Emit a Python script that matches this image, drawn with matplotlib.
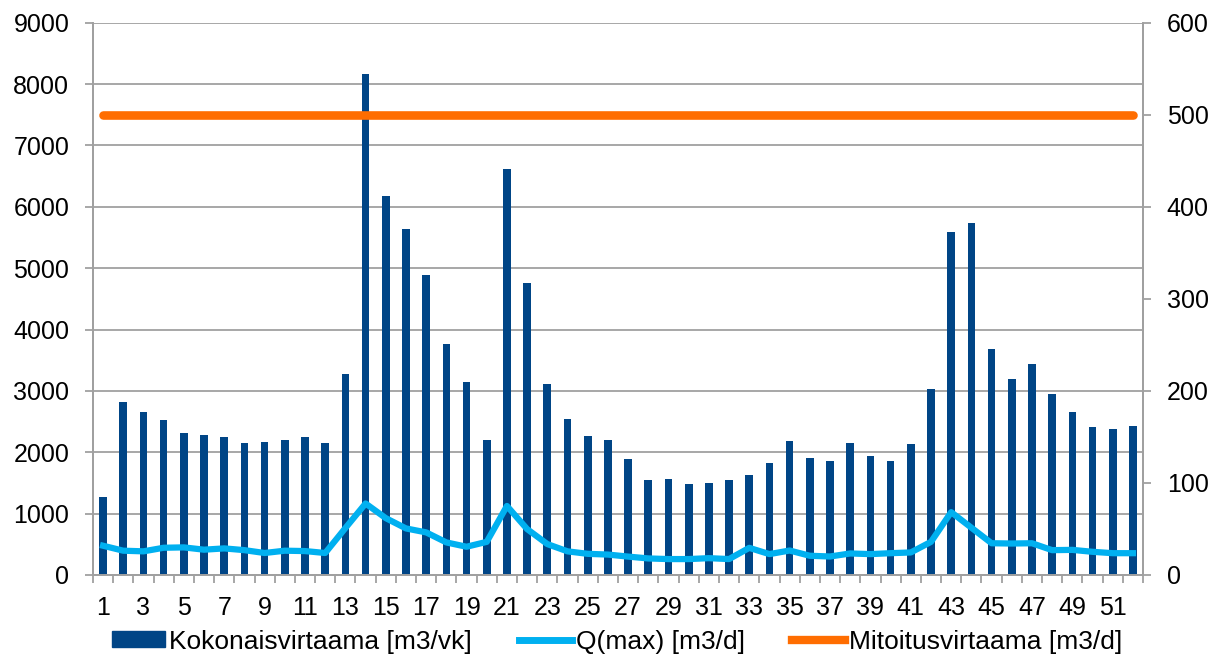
import numpy as np
import matplotlib
matplotlib.use("Agg")
import matplotlib.pyplot as plt
from matplotlib.patches import Patch
from matplotlib.lines import Line2D

plt.rcParams['font.family'] = ['Liberation Sans', 'DejaVu Sans']

weeks = list(range(1, 53))

# Kokonaisvirtaama [m3/vk], left axis
total_flow = [1263, 2818, 2661, 2520, 2320, 2282, 2244, 2146, 2168, 2195,
              2249, 2146, 3268, 8158, 6174, 5634, 4897, 3767, 3144, 2195,
              6620, 4762, 3106, 2542, 2260, 2195, 1886, 1550, 1566, 1490,
              1507, 1545, 1631, 1821, 2184, 1913, 1864, 2146, 1946, 1859,
              2130, 3024, 5584, 5730, 3679, 3190, 3435, 2957, 2650, 2417,
              2385, 2428]

# Q(max) [m3/d], right axis
q_max = [31.8, 26.4, 25.7, 29.6, 30.0, 27.5, 28.9, 27.0, 23.9, 26.4,
         26.0, 23.9, 51.0, 77.7, 61.8, 50.6, 46.3, 35.4, 30.7, 36.0,
         75.0, 49.9, 33.6, 25.7, 23.0, 22.2, 20.0, 18.0, 17.3, 17.3,
         18.3, 17.3, 29.5, 22.7, 26.6, 20.9, 20.1, 23.4, 22.7, 23.7,
         24.5, 36.0, 68.3, 51.4, 34.5, 34.2, 34.5, 27.0, 27.3, 25.2,
         23.7, 23.7]

# Mitoitusvirtaama [m3/d], right axis
design_flow = [500] * 52

bar_color = '#004586'
q_color = '#00b0f0'
design_color = '#ff6d00'
grid_color = '#a0a0a0'
fs = 18

fig = plt.figure(figsize=(12.2, 6.54), dpi=100)
ax = fig.add_axes([0.0762, 0.1208, 0.8607, 0.8444])
ax2 = ax.twinx()

ax.bar(weeks, total_flow, width=0.38, color=bar_color, zorder=2)
ax.set_xlim(0.5, 52.5)
ax.set_ylim(0, 9000)
ax.set_yticks(range(0, 9001, 1000))
ax.yaxis.grid(True, color=grid_color, linewidth=1.3, zorder=0)
ax.set_axisbelow(True)

ax.set_xticks(range(1, 53, 2))
ax.set_xticklabels([str(w) for w in range(1, 53, 2)])
ax.set_xticks(np.arange(0.5, 53, 1), minor=True)
ax.tick_params(axis='x', which='major', length=0, labelsize=fs, pad=15)
ax.tick_params(axis='x', which='minor', length=6, color=grid_color, width=1.3)
ax.tick_params(axis='y', length=6, color=grid_color, width=1.3, labelsize=fs, pad=11)

ax2.plot(weeks, q_max, color=q_color, linewidth=4.5, zorder=3, solid_joinstyle='round')
ax2.plot(weeks, design_flow, color=design_color, linewidth=6.2, zorder=4, solid_capstyle='round')
ax2.set_ylim(0, 600)
ax2.set_yticks(range(0, 601, 100))
ax2.tick_params(axis='y', length=6, color=grid_color, width=1.3, labelsize=fs, pad=11)

for a in (ax, ax2):
    for side in ('left', 'right', 'bottom'):
        a.spines[side].set_color(grid_color)
        a.spines[side].set_linewidth(1.3)
    a.spines['top'].set_visible(False)

handles = [Patch(facecolor=bar_color, edgecolor=bar_color),
           Line2D([0], [0], color=q_color, linewidth=5),
           Line2D([0], [0], color=design_color, linewidth=6)]
labels = ['Kokonaisvirtaama [m3/vk]', 'Q(max) [m3/d]', 'Mitoitusvirtaama [m3/d]']
fig.legend(handles, labels, loc='center', bbox_to_anchor=(0.506, 0.019), ncol=3,
           frameon=False, fontsize=19, handlelength=2.0, handleheight=0.53,
           handletextpad=0.15, columnspacing=1.8, borderpad=0)

fig.savefig('out.png', dpi=100)
